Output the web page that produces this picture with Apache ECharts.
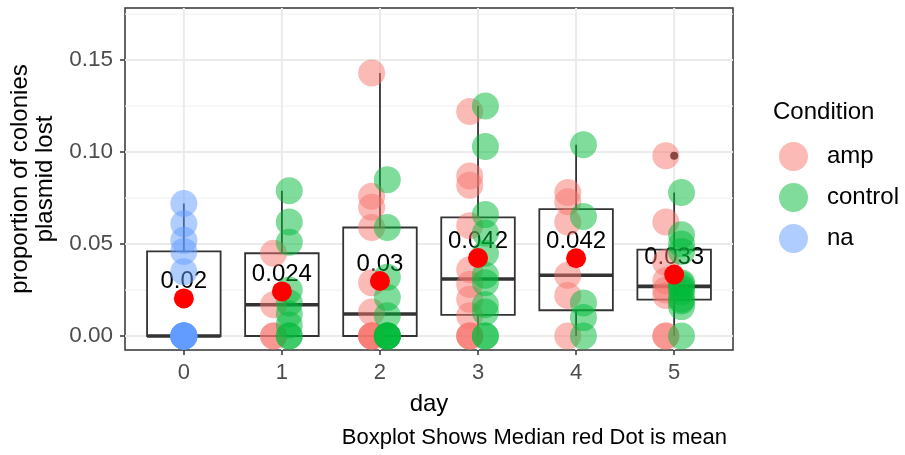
<!DOCTYPE html>
<html>
<head>
<meta charset="utf-8">
<script src="https://cdn.jsdelivr.net/npm/echarts@6/dist/echarts.min.js"></script>
<style>
  html, body { margin: 0; padding: 0; background: #ffffff; }
  #chart { width: 905px; height: 455px; }
</style>
</head>
<body>
<div id="chart"></div>
<script>
// Proportion of colonies that lost the plasmid, per day and condition
const days = [0, 1, 2, 3, 4, 5];

const ampByDay = [
  [],
  [0.045, 0.017, 0, 0],
  [0.143, 0.076, 0.070, 0.059, 0.029, 0.013, 0, 0, 0, 0],
  [0.122, 0.087, 0.082, 0.060, 0.036, 0.028, 0.020, 0.011, 0, 0, 0],
  [0.078, 0.073, 0.062, 0.033, 0.022, 0],
  [0.098, 0.062, 0.040, 0.030, 0.025, 0.022, 0, 0]
];
const controlByDay = [
  [],
  [0.079, 0.062, 0.051, 0.025, 0.018, 0.012, 0.006, 0, 0],
  [0.085, 0.059, 0.032, 0.021, 0.011, 0, 0, 0, 0, 0],
  [0.125, 0.103, 0.066, 0.056, 0.045, 0.033, 0.029, 0.017, 0.013, 0, 0],
  [0.104, 0.065, 0.018, 0.010, 0],
  [0.078, 0.055, 0.050, 0.046, 0.029, 0.028, 0.026, 0.024, 0.020, 0.019, 0.016, 0]
];
const naByDay = [
  [0.072, 0.061, 0.052, 0.046, 0.035, 0, 0, 0, 0, 0, 0, 0, 0],
  [], [], [], [], []
];

const yTicks = [0, 0.05, 0.10, 0.15];
const yMinorGrid = [0.025, 0.075, 0.125, 0.175];

const groupNames = ['amp', 'control', 'na'];
const groupColors = ['rgba(248,118,109,0.5)', 'rgba(0,186,56,0.5)', 'rgba(97,156,255,0.5)'];
const groupOffsets = [-0.085, 0.075, 0];
const groupData = [ampByDay, controlByDay, naByDay];

const FONT = '"Liberation Sans", Arial, Helvetica, sans-serif';

// R-style (type 7) quantile of a sorted array
function quantile(sorted, p) {
  const h = (sorted.length - 1) * p;
  const lo = Math.floor(h), hi = Math.ceil(h);
  return sorted[lo] + (h - lo) * (sorted[hi] - sorted[lo]);
}

function boxStats(values) {
  const s = values.slice().sort((a, b) => a - b);
  const q1 = quantile(s, 0.25), med = quantile(s, 0.5), q3 = quantile(s, 0.75);
  const iqr = q3 - q1;
  const lo = q1 - 1.5 * iqr, hi = q3 + 1.5 * iqr;
  const inside = s.filter(v => v >= lo && v <= hi);
  return {
    q1, med, q3,
    wlo: inside[0], whi: inside[inside.length - 1],
    outliers: s.filter(v => v < lo || v > hi),
    mean: s.reduce((a, b) => a + b, 0) / s.length
  };
}

const boxRows = [];
const outlierPoints = [];
const meanPoints = [];
days.forEach((d, i) => {
  const all = ampByDay[i].concat(controlByDay[i], naByDay[i]);
  const st = boxStats(all);
  boxRows.push([d, st.wlo, st.q1, st.med, st.q3, st.whi]);
  st.outliers.forEach(v => outlierPoints.push([d, v]));
  meanPoints.push([d, st.mean]);
});

// grid lines: kind 0 = major horizontal, 1 = minor horizontal, 2 = vertical
const gridRows = []
  .concat(yTicks.map(v => [0, v]))
  .concat(yMinorGrid.map(v => [1, v]))
  .concat(days.map(d => [2, d]));

const pointSeries = groupNames.map((name, g) => {
  const data = [];
  days.forEach((d, i) => {
    groupData[g][i].forEach(v => data.push([d + groupOffsets[g], v]));
  });
  return {
    name: name,
    type: 'scatter',
    z: 4,
    symbol: 'circle',
    symbolSize: 27,
    itemStyle: { color: groupColors[g], opacity: 1 },
    data: data
  };
});

const chart = echarts.init(document.getElementById('chart'), null, { renderer: 'canvas' });

chart.setOption({
  animation: false,
  backgroundColor: '#ffffff',
  textStyle: { fontFamily: FONT },
  title: [
    {
      text: 'Condition', left: 773, top: 100, padding: 0,
      textStyle: { fontSize: 24, fontWeight: 'normal', color: '#000', fontFamily: FONT }
    },
    {
      text: 'Boxplot Shows Median red Dot is mean', right: 178, top: 427, padding: 0,
      textStyle: { fontSize: 22, fontWeight: 'normal', color: '#000', fontFamily: FONT }
    }
  ],
  legend: {
    data: groupNames,
    orient: 'vertical',
    left: 779, top: 142,
    padding: 0,
    itemWidth: 29, itemHeight: 29, itemGap: 12,
    icon: 'circle',
    textStyle: { fontSize: 24, color: '#000', fontFamily: FONT, padding: [0, 0, 0, 14] },
    selectedMode: false
  },
  grid: {
    left: 125, right: 172, top: 8, bottom: 105,
    show: true, borderColor: '#333333', borderWidth: 1.5,
    backgroundColor: 'transparent'
  },
  xAxis: {
    type: 'value',
    min: -0.6, max: 5.6,
    name: 'day',
    nameLocation: 'middle',
    nameGap: 42,
    nameTextStyle: { fontSize: 24, color: '#000', fontFamily: FONT },
    axisLine: { show: false, onZero: false },
    axisTick: { show: true, length: 5, customValues: days, lineStyle: { color: '#333333', width: 1.5 } },
    axisLabel: { customValues: days, fontSize: 22, color: '#4D4D4D', margin: 12, fontFamily: FONT,
                 formatter: v => String(v) },
    splitLine: { show: false }
  },
  yAxis: {
    type: 'value',
    min: -0.0076, max: 0.1783,
    name: 'proportion of colonies\nplasmid lost',
    nameLocation: 'middle',
    nameGap: 65,
    nameTextStyle: { fontSize: 24, color: '#000', lineHeight: 25, fontFamily: FONT },
    axisLine: { show: false, onZero: false },
    axisTick: { show: true, length: 5, customValues: yTicks, lineStyle: { color: '#333333', width: 1.5 } },
    axisLabel: { customValues: yTicks, fontSize: 22.5, color: '#4D4D4D', margin: 12, fontFamily: FONT,
                 formatter: v => v.toFixed(2) },
    splitLine: { show: false }
  },
  series: [
    {
      name: 'grid',
      type: 'custom',
      z: 1,
      silent: true,
      clip: true,
      data: gridRows,
      encode: { x: -1, y: -1 },
      renderItem: function (params, api) {
        const kind = api.value(0), v = api.value(1);
        const cs = params.coordSys;
        if (kind === 2) {
          const p = api.coord([v, 0]);
          return { type: 'line', shape: { x1: p[0], y1: cs.y, x2: p[0], y2: cs.y + cs.height },
                   style: { stroke: '#EBEBEB', lineWidth: 2 } };
        }
        const p = api.coord([0, v]);
        return { type: 'line', shape: { x1: cs.x, y1: p[1], x2: cs.x + cs.width, y2: p[1] },
                 style: { stroke: kind === 0 ? '#EBEBEB' : '#F3F3F3', lineWidth: kind === 0 ? 2 : 1.2 } };
      }
    },
    {
      name: 'box',
      type: 'custom',
      z: 2,
      silent: true,
      data: boxRows,
      encode: { x: 0, y: [1, 2, 3, 4, 5] },
      renderItem: function (params, api) {
        const x = api.value(0);
        const half = 0.375;
        const tl = api.coord([x - half, api.value(4)]);
        const br = api.coord([x + half, api.value(2)]);
        const mL = api.coord([x - half, api.value(3)]);
        const mR = api.coord([x + half, api.value(3)]);
        const hi = api.coord([x, api.value(5)]);
        const q3 = api.coord([x, api.value(4)]);
        const q1 = api.coord([x, api.value(2)]);
        const lo = api.coord([x, api.value(1)]);
        const ls = { stroke: '#333333', lineWidth: 1.8 };
        return {
          type: 'group',
          children: [
            { type: 'line', shape: { x1: hi[0], y1: hi[1], x2: q3[0], y2: q3[1] }, style: ls },
            { type: 'line', shape: { x1: q1[0], y1: q1[1], x2: lo[0], y2: lo[1] }, style: ls },
            { type: 'rect', shape: { x: tl[0], y: tl[1], width: br[0] - tl[0], height: br[1] - tl[1] },
              style: { fill: '#ffffff', stroke: '#333333', lineWidth: 1.8 } },
            { type: 'line', shape: { x1: mL[0], y1: mL[1], x2: mR[0], y2: mR[1] },
              style: { stroke: '#333333', lineWidth: 3.6 } }
          ]
        };
      }
    },
    {
      name: 'outlier',
      type: 'scatter',
      z: 3,
      silent: true,
      symbolSize: 8,
      itemStyle: { color: '#1a1a1a', opacity: 1 },
      data: outlierPoints
    },
    {
      name: 'meanLabel',
      type: 'custom',
      z: 3,
      silent: true,
      data: meanPoints,
      encode: { x: 0, y: 1 },
      renderItem: function (params, api) {
        const p = api.coord([api.value(0), api.value(1)]);
        const txt = String(Math.round(api.value(1) * 1000) / 1000);
        return {
          type: 'text',
          x: p[0], y: p[1] - 17,
          style: { text: txt, fontSize: 24, fontFamily: FONT, fill: '#000',
                   align: 'center', verticalAlign: 'middle' }
        };
      }
    }
  ].concat(pointSeries).concat([
    {
      name: 'mean',
      type: 'scatter',
      z: 5,
      silent: true,
      symbolSize: 20,
      itemStyle: { color: '#FF0000', opacity: 1 },
      data: meanPoints
    }
  ])
});
</script>
</body>
</html>
